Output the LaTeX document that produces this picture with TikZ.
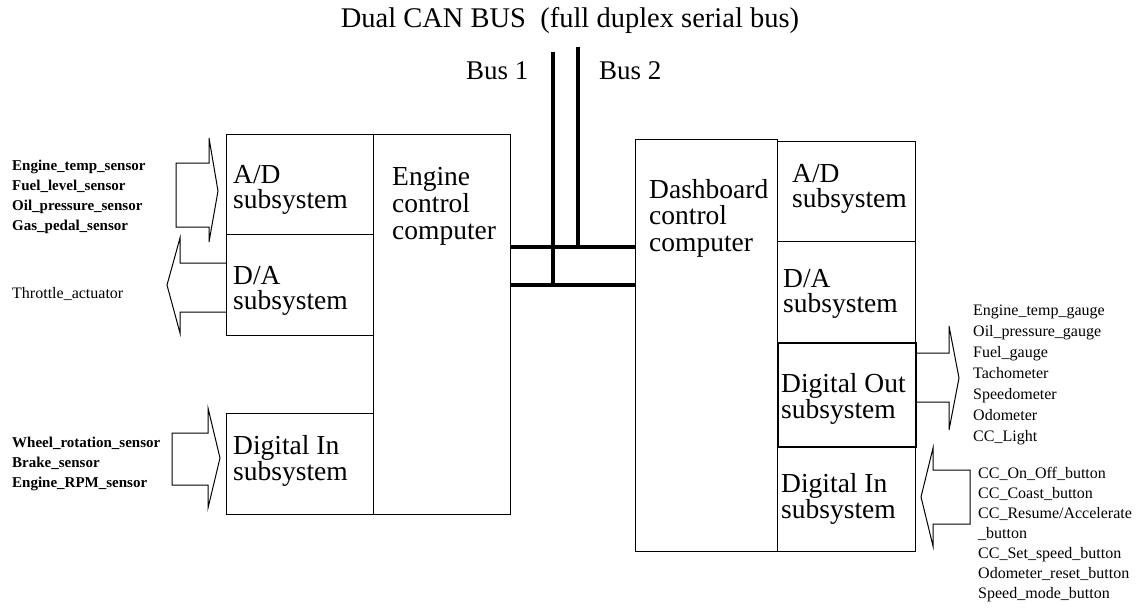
\documentclass[tikz,border=0pt]{standalone}
\usepackage{fontspec}
\setmainfont{Liberation Serif}
\usetikzlibrary{positioning,calc}

\begin{document}
\begin{tikzpicture}[x=1pt,y=-1pt,
    box/.style={draw, line width=1.1pt, anchor=north west, inner sep=0pt},
    boxtext/.style={anchor=base west, align=left, inner sep=0pt, font=\fontsize{27.5}{#1}\selectfont},
    boxtext/.default=27,
    sigs/.style={anchor=base west, align=left, inner sep=0pt, font=\fontsize{16}{#1}\selectfont},
    sigs/.default=20.5,
    bus/.style={line width=4pt},
    blockarrow/.style={draw, line width=1pt, line join=miter}]
    \useasboundingbox (0,0) rectangle (1147,607);
    % engine side
    \node[box, minimum width=147pt, minimum height=100pt] (adL) at (226,134) {};
    \node[box, minimum width=147pt, minimum height=101pt] (daL) at (226,234) {};
    \node[box, minimum width=147pt, minimum height=101pt] (dinL) at (226,413) {};
    \node[box, minimum width=137pt, minimum height=380pt] (eng) at (373,134) {};
    \node[boxtext=25] (adLt) at (233,208) {A/D\\subsystem};
    \node[boxtext=25] (daLt) at (233,309) {D/A\\subsystem};
    \node[boxtext=26] (dinLt) at (233,480) {Digital In\\subsystem};
    \node[boxtext] (engt) at (392,239) {Engine\\control\\computer};
    % dashboard side
    \node[box, minimum width=142pt, minimum height=412pt] (dash) at (635,139) {};
    \node[box, minimum width=138pt, minimum height=100pt] (adR) at (777,141) {};
    \node[box, minimum width=138pt, minimum height=101pt] (daR) at (777,241) {};
    \node[box, minimum width=138pt, minimum height=104pt, line width=1.8pt] (doutR) at (777,342) {};
    \node[box, minimum width=138pt, minimum height=105pt] (dinR) at (777,446) {};
    \node[boxtext=26.5] (dasht) at (649,251) {Dashboard\\control\\computer};
    \node[boxtext=25] (adRt) at (792,207) {A/D\\subsystem};
    \node[boxtext=25] (daRt) at (783,312) {D/A\\subsystem};
    \node[boxtext=26] (doutRt) at (781,418) {Digital Out\\subsystem};
    \node[boxtext=26] (dinRt) at (781,518) {Digital In\\subsystem};
    % bus
    \node[anchor=base, inner sep=0pt, font=\fontsize{28.5}{28.5}\selectfont] (title) at (570,28) {Dual CAN BUS\ \ (full duplex serial bus)};
    \node[anchor=base west, inner sep=0pt, font=\fontsize{27}{27}\selectfont] (bus1) at (466,80) {Bus 1};
    \node[anchor=base west, inner sep=0pt, font=\fontsize{27}{27}\selectfont] (bus2) at (599,80) {Bus 2};
    \coordinate (b1top) at (553,52);
    \coordinate (b2top) at (578,47);
    \draw[bus] (eng.east |- 0,247) -- (dash.west |- 0,247);
    \draw[bus] (eng.east |- 0,285) -- (dash.west |- 0,285);
    \draw[bus] (b1top) -- ($(b1top |- 0,285)+(0,2)$);
    \draw[bus] (b2top) -- ($(b2top |- 0,247)+(0,2)$);
    % signals
    \node[sigs=20, font=\fontsize{15}{20}\selectfont\bfseries] (adLin) at (12,230) {Engine\_temp\_sensor\\Fuel\_level\_sensor\\Oil\_pressure\_sensor\\Gas\_pedal\_sensor};
    \node[sigs] (daLout) at (12,298) {Throttle\_actuator};
    \node[sigs=20, font=\fontsize{15}{20}\selectfont\bfseries] (dinLin) at (12,487) {Wheel\_rotation\_sensor\\Brake\_sensor\\Engine\_RPM\_sensor};
    \node[sigs=21] (doutRout) at (973,441) {Engine\_temp\_gauge\\Oil\_pressure\_gauge\\Fuel\_gauge\\Tachometer\\Speedometer\\Odometer\\CC\_Light};
    \node[sigs=20] (dinRin) at (978,598) {CC\_On\_Off\_button\\CC\_Coast\_button\\CC\_Resume/Accelerate\\\_button\\CC\_Set\_speed\_button\\Odometer\_reset\_button\\Speed\_mode\_button};
    % block arrows
    \draw[blockarrow] (176,163) -- (209,163) -- (209,138) -- (218,191) -- (209,242) -- (209,227) -- (176,227) -- cycle;
    \draw[blockarrow] (226,263) -- (180,263) -- (180,238) -- (167,285) -- (180,333) -- (180,312) -- (226,312);
    \draw[blockarrow] (172,433) -- (208,433) -- (208,408) -- (220,458) -- (208,508) -- (208,485) -- (172,485) -- cycle;
    \draw[blockarrow] (915,353) -- (949,353) -- (949,326) -- (959,378) -- (949,430) -- (949,402) -- (915,402);
    \draw[blockarrow] (970,470) -- (933,470) -- (933,448) -- (921,497) -- (933,546) -- (933,524) -- (970,524) -- cycle;
\end{tikzpicture}
\end{document}
